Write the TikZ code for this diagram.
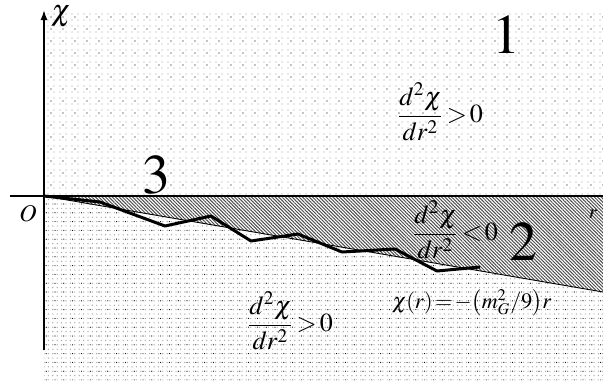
\documentclass[tikz,border=0pt]{standalone}
\usepackage{mathptmx}
\usetikzlibrary{patterns,patterns.meta,arrows.meta}
\tikzset{
  lbl/.style={inner sep=0pt, outer sep=0pt},
  frac/.style={inner sep=0pt, outer sep=0pt, font=\fontsize{13}{13}\selectfont},
  bigdigit/.style={inner sep=0pt, font=\fontsize{28}{28}\selectfont},
  axis/.style={line width=0.8pt},
  curve/.style={line width=1.5pt, line join=round},
  thinline/.style={line width=0.45pt},
}
\newcommand{\dd}[1]{$\displaystyle\frac{d^{2}\chi}{dr^{2}}\,{#1}\,0$}
\begin{document}
\begin{tikzpicture}[x=0.5pt,y=-0.5pt]
\useasboundingbox (0,0) rectangle (603,380);
% regions
\fill[pattern={Dots[distance=3pt,radius=0.28pt]},pattern color=gray!75] (44,10) rectangle (603,196);
\fill[pattern={Dots[distance=6pt,radius=0.35pt,xshift=1.5pt,yshift=1.5pt]},pattern color=black] (44,10) rectangle (603,196);
\fill[pattern={Lines[angle=-45,distance=1.2pt,line width=0.5pt]},pattern color=black!70] (44,196) -- (603,196) -- (603,292) -- cycle;
\fill[pattern={Dots[distance=2.2pt,radius=0.35pt]},pattern color=gray!70] (44,196) -- (603,292) -- (603,380) -- (44,380) -- cycle;
\fill[pattern={Dots[distance=4.4pt,radius=0.3pt,xshift=1.1pt]},pattern color=black] (44,196) -- (603,292) -- (603,380) -- (44,380) -- cycle;
% coordinates
\coordinate (O) at (44,196);
\coordinate (xl) at (10,196);
\coordinate (xr) at (603,196);
\coordinate (yb) at (44,350);
\coordinate (yt) at (44,10);
\coordinate (dend) at (603,292);
% axes
\draw[axis] (xl) -- (xr);
\draw[axis,-{Latex[length=5pt,width=3.5pt]}] (yb) -- (yt);
% diagonal line
\draw[thinline] (O) -- (dend);
% jagged curve
\draw[curve] (O) -- (100,202) -- (165,226) -- (211,216) -- (251,241) -- (298,234) -- (342,252) -- (395,249) -- (437,271) -- (480,267);
% labels
\node[lbl, font=\fontsize{15}{15}\selectfont] (chi) at (61,17) {$\chi$};
\node[lbl, font=\fontsize{12}{12}\selectfont] (olab) at (28,214) {$O$};
\node[lbl, font=\fontsize{10}{10}\selectfont] (rlab) at (593,214) {$r$};
\node[bigdigit] (one) at (506,35) {$1$};
\node[bigdigit] (three) at (156,175) {$3$};
\node[bigdigit] (two) at (523,242) {$2$};
\node[frac, anchor=west] (f1) at (397,112) {\dd{>}};
\node[frac, anchor=west] (f2) at (412,230) {\dd{<}};
\node[frac, anchor=west] (f3) at (247,321) {\dd{>}};
\node[lbl, anchor=base west, font=\fontsize{11}{11}\selectfont] (f4) at (392,308) {$\chi(r)\!=\!-\!\left(m_G^2/9\right)\!r$};
\end{tikzpicture}
\end{document}
